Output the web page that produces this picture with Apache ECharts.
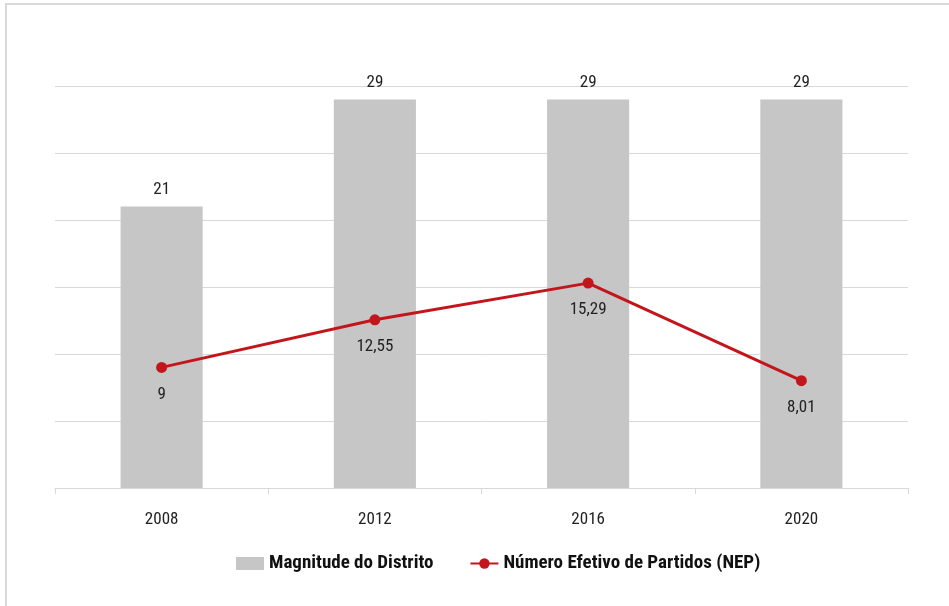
<!DOCTYPE html>
<html><head><meta charset="utf-8">
<script src="https://cdn.jsdelivr.net/npm/echarts@6/dist/echarts.min.js"></script>
<style>html,body{margin:0;padding:0;background:#fff}#c{width:949px;height:606px}</style>
</head><body><div id="c"></div>
<script>
const categories = ['2008', '2012', '2016', '2020'];
const magnitude = [21, 29, 29, 29];
const nep = [9, 12.55, 15.29, 8.01];
const FONT = '"Roboto Condensed", "Open Sans Condensed", sans-serif';
const chart = echarts.init(document.getElementById('c'));
const fmt = v => String(v.value).replace('.', ',');
chart.setOption({
  animation: false,
  backgroundColor: '#fff',
  graphic: [{type:'rect', shape:{x:6, y:4, width:1200, height:1200}, style:{fill:'none', stroke:'#d9d9d9', lineWidth:2}}],
  grid: {left: 55, right: 41, top: 86, bottom: 118},
  legend: {
    top: 549, left: 231, itemGap: 36, itemWidth: 28, itemHeight: 13,
    textStyle: {fontFamily: FONT, fontWeight: 'bold', fontSize: 19, color: '#111'},
    data: [{name:'Magnitude do Distrito', icon:'rect'}, {name:'Número Efetivo de Partidos (NEP)'}]
  },
  xAxis: {
    type: 'category', data: categories,
    axisLine: {lineStyle: {color: '#d9d9d9', width: 1}},
    axisTick: {show: true, length: 6, lineStyle: {color: '#d9d9d9'}},
    axisLabel: {fontFamily: FONT, fontSize: 17, color: '#222', margin: 23}
  },
  yAxis: {
    type: 'value', min: 0, max: 30, interval: 5,
    axisLabel: {show: false}, axisLine: {show: false}, axisTick: {show: false},
    splitLine: {lineStyle: {color: '#d9d9d9', width: 1}}
  },
  series: [
    {
      name: 'Magnitude do Distrito', type: 'bar', data: magnitude, barWidth: '38.5%',
      itemStyle: {color: '#c6c6c6'},
      label: {show: true, position: 'top', distance: 8, fontFamily: FONT, fontSize: 17, color: '#222', formatter: fmt}
    },
    {
      name: 'Número Efetivo de Partidos (NEP)', type: 'line', data: nep,
      symbol: 'circle', symbolSize: 11,
      lineStyle: {color: '#c3161c', width: 3}, itemStyle: {color: '#c3161c'},
      label: {show: true, position: 'bottom', distance: 13, fontFamily: FONT, fontSize: 17, color: '#222', formatter: fmt}
    }
  ]
});
</script></body></html>
